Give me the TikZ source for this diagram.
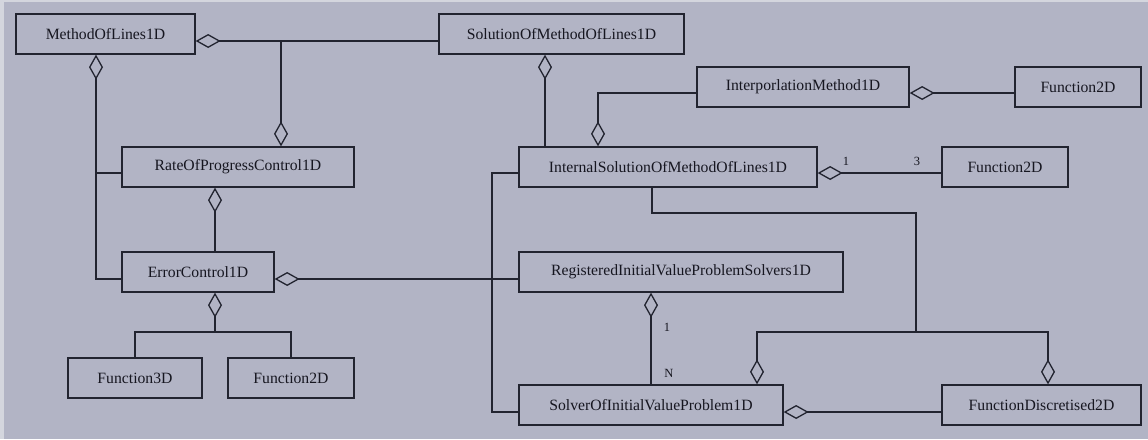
\documentclass[tikz,border=0pt]{standalone}
\usepackage{fontspec}
\setmainfont{Liberation Serif}
\usetikzlibrary{arrows.meta}
\definecolor{canvas}{RGB}{178,180,197}
\definecolor{rim}{RGB}{212,214,222}
\definecolor{ink}{RGB}{34,36,48}
\definecolor{letters}{RGB}{22,22,32}
\begin{document}
\begin{tikzpicture}[x=1pt,y=-1pt,
  cls/.style={draw=ink, line width=1.3pt, fill=canvas, minimum height=40pt,
              inner sep=0pt, text=letters, font=\fontsize{15.7}{18}\selectfont},
  link/.style={draw=ink, line width=1.3pt},
  agg/.style={link, {Diamond[open,length=25pt,width=14pt]}-},
  mult/.style={text=letters, font=\fontsize{12.5}{14}\selectfont, inner sep=0pt}]

% canvas
\fill[canvas] (0,0) rectangle (1148,439);
\fill[rim] (0,0) rectangle (1148,2);
\fill[rim] (0,0) rectangle (4,439);
\useasboundingbox (0,0) rectangle (1148,439);

% classes
\node[cls, minimum width=179pt] (mol)    at (105.5,34) {MethodOfLines1D};
\node[cls, minimum width=245pt] (sol)    at (561.5,34) {SolutionOfMethodOfLines1D};
\node[cls, minimum width=232pt] (rop)    at (238,167)  {RateOfProgressControl1D};
\node[cls, minimum width=152pt] (err)    at (198,272)  {ErrorControl1D};
\node[cls, minimum width=134pt] (f3)     at (135,378)  {Function3D};
\node[cls, minimum width=126pt] (f2a)    at (291,378)  {Function2D};
\node[cls, minimum width=212pt] (interp) at (803,87)   {InterporlationMethod1D};
\node[cls, minimum width=126pt] (f2b)    at (1078,87)  {Function2D};
\node[cls, minimum width=298pt] (isol)   at (668,167)  {InternalSolutionOfMethodOfLines1D};
\node[cls, minimum width=126pt] (f2c)    at (1005,167) {Function2D};
\node[cls, minimum width=324pt] (reg)    at (681,272)  {RegisteredInitialValueProblemSolvers1D};
\node[cls, minimum width=264pt] (solv)   at (651,405)  {SolverOfInitialValueProblem1D};
\node[cls, minimum width=199pt] (fdisc)  at (1041.5,405) {FunctionDiscretised2D};

% rows and columns used by the connectors
\coordinate (yA) at (0,41);
\coordinate (yB) at (0,93);
\coordinate (yC) at (0,173);
\coordinate (yD) at (0,279);
\coordinate (yE) at (0,412);
\coordinate (yF) at (0,213);
\coordinate (spine) at (96,0);
\coordinate (xE) at (215,0);
\coordinate (xS) at (545,0);
\coordinate (xI) at (598,0);
\coordinate (xV) at (492,0);
\coordinate (xB) at (652,0);
\coordinate (xR) at (651,0);
\coordinate (xP) at (757,0);
\coordinate (xQ) at (1048,0);
\coordinate (tA) at (281,41);
\coordinate (tB) at (215,332);
\coordinate (tC) at (916,332);

% MethodOfLines1D aggregations
\draw[agg] (mol.east |- yA) -- (sol.west |- yA);
\draw[agg] (rop.north -| tA) -- (tA);
\draw[agg] (mol.south -| spine) -- (spine |- yD) -- (err.west |- yD);
\draw[link] (spine |- yC) -- (rop.west |- yC);

% control chain
\draw[agg] (rop.south -| xE) -- (err.north -| xE);
\draw[agg] (err.east |- yD) -- (reg.west |- yD);
\draw[agg] (err.south -| xE) -- (tB);
\draw[link] (f3.north) |- (tB) -| (f2a.north);

% solution side
\draw[agg] (sol.south -| xS) -- (isol.north -| xS);
\draw[agg] (isol.north -| xI) |- (interp.west |- yB);
\draw[agg] (interp.east |- yB) -- (f2b.west |- yB);
\draw[agg] (isol.east |- yC) -- (f2c.west |- yC);
\node[mult] (m1a) at (846,161) {1};
\node[mult] (m3)  at (917,161) {3};
\draw[link] (isol.west |- yC) -| (xV |- yE) -- (solv.west |- yE);
\draw[link] (isol.south -| xB) |- (tC |- yF) -- (tC);
\draw[agg] (solv.north -| xP) |- (tC);
\draw[agg] (fdisc.north -| xQ) |- (tC);

% solvers
\draw[agg] (reg.south -| xR) -- (solv.north -| xR);
\node[mult] (m1b) at (667,327) {1};
\node[mult] (mN)  at (669,373) {N};
\draw[agg] (solv.east |- yE) -- (fdisc.west |- yE);
\end{tikzpicture}
\end{document}
